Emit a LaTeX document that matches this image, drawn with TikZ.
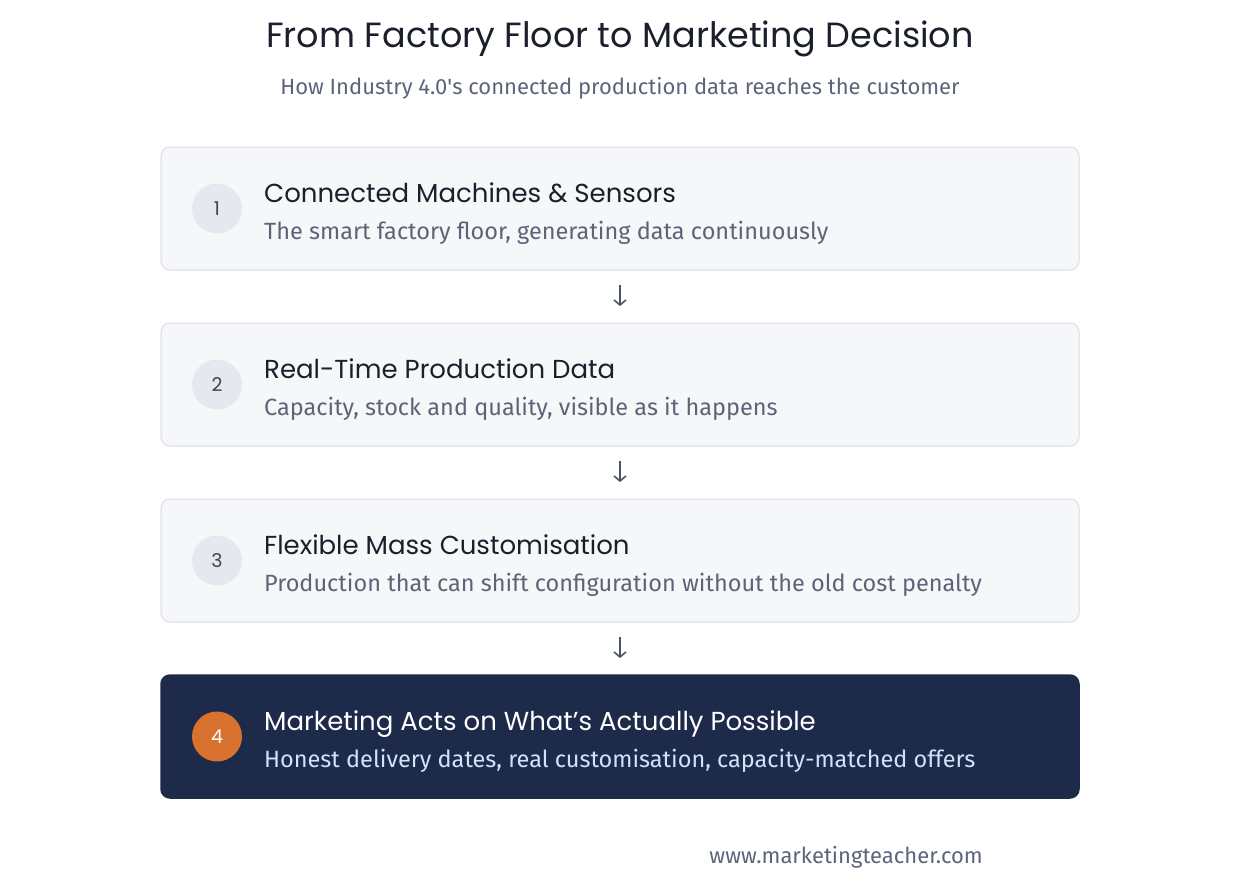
\documentclass[tikz,border=0pt]{standalone}
\usepackage{fontspec}
\setmainfont{Fira Sans}
\newfontfamily\headfont{Poppins}
\usetikzlibrary{positioning,arrows.meta}
\definecolor{ink}{HTML}{1B1F2B}
\definecolor{muted}{HTML}{5B6478}
\definecolor{cardbg}{HTML}{F6F7F9}
\definecolor{cardline}{HTML}{E3E6EB}
\definecolor{badgebg}{HTML}{E5E8EF}
\definecolor{badgeink}{HTML}{3B4458}
\definecolor{navy}{HTML}{1E2A4A}
\definecolor{accent}{HTML}{D9722F}
\definecolor{paleblue}{HTML}{CFE3FA}
\definecolor{arrowink}{HTML}{4B5468}

\begin{document}
\begin{tikzpicture}[x=1pt, y=-1pt,
    card/.style={draw=cardline, fill=cardbg, line width=1.5pt, rounded corners=9pt,
      minimum width=918pt, minimum height=123pt, inner sep=0pt, outer sep=0pt},
    darkcard/.style={card, draw=navy, fill=navy},
    badge/.style={circle, fill=badgebg, minimum size=50pt, inner sep=0pt,
      text=badgeink, font=\headfont\fontsize{19}{19}\selectfont},
    hotbadge/.style={badge, fill=accent, text=white},
    head/.style={anchor=base west, inner sep=0pt, text=ink,
      font=\headfont\fontsize{26}{26}\selectfont},
    sub/.style={anchor=base west, inner sep=0pt, text=muted,
      font=\fontsize{23.5}{23.5}\selectfont},
    flow/.style={draw=arrowink, line width=1.6pt, shorten <=15pt, shorten >=17pt,
      -{Straight Barb[length=5pt, width=12pt]}}
  ]
  \useasboundingbox (0,0) rectangle (1240,887);

  % title
  \node[inner sep=0pt, text=ink, font=\headfont\fontsize{35}{35}\selectfont, anchor=base]
    (title) at (620,47) {From Factory Floor to Marketing Decision};
  \node[inner sep=0pt, text=muted, font=\fontsize{22}{22}\selectfont, anchor=base]
    (subtitle) at (620,94) {How Industry 4.0\textquotesingle s connected production data reaches the customer};

  % steps
  \node[card, anchor=north west] (c1) at (161,147) {};
  \node[card, below=53pt of c1] (c2) {};
  \node[card, below=53pt of c2] (c3) {};
  \node[darkcard, below=53pt of c3] (c4) {};

  \node[badge] (n1) at ([xshift=56pt]c1.west) {1};
  \node[badge] (n2) at ([xshift=56pt]c2.west) {2};
  \node[badge] (n3) at ([xshift=56pt]c3.west) {3};
  \node[hotbadge] (n4) at ([xshift=56pt]c4.west) {4};

  \node[head] (h1) at ([xshift=103pt, yshift=6.5pt]c1.west) {Connected Machines \& Sensors};
  \node[sub] (s1) at ([xshift=103pt, yshift=-31pt]c1.west) {The smart factory floor, generating data continuously};
  \node[head] (h2) at ([xshift=103pt, yshift=6.5pt]c2.west) {Real-Time Production Data};
  \node[sub] (s2) at ([xshift=103pt, yshift=-31pt]c2.west) {Capacity, stock and quality, visible as it happens};
  \node[head] (h3) at ([xshift=103pt, yshift=6.5pt]c3.west) {Flexible Mass Customisation};
  \node[sub] (s3) at ([xshift=103pt, yshift=-31pt]c3.west) {Production that can shift configuration without the old cost penalty};
  \node[head, text=white] (h4) at ([xshift=103pt, yshift=6.5pt]c4.west) {Marketing Acts on What’s Actually Possible};
  \node[sub, text=paleblue] (s4) at ([xshift=103pt, yshift=-31pt]c4.west) {Honest delivery dates, real customisation, capacity-matched offers};

  \draw[flow] (c1) -- (c2);
  \draw[flow] (c2) -- (c3);
  \draw[flow] (c3) -- (c4);

  % footer
  \node[inner sep=0pt, text=muted, font=\fontsize{22}{22}\selectfont, anchor=base east]
    (site) at (983,863) {www.marketingteacher.com};
\end{tikzpicture}
\end{document}
